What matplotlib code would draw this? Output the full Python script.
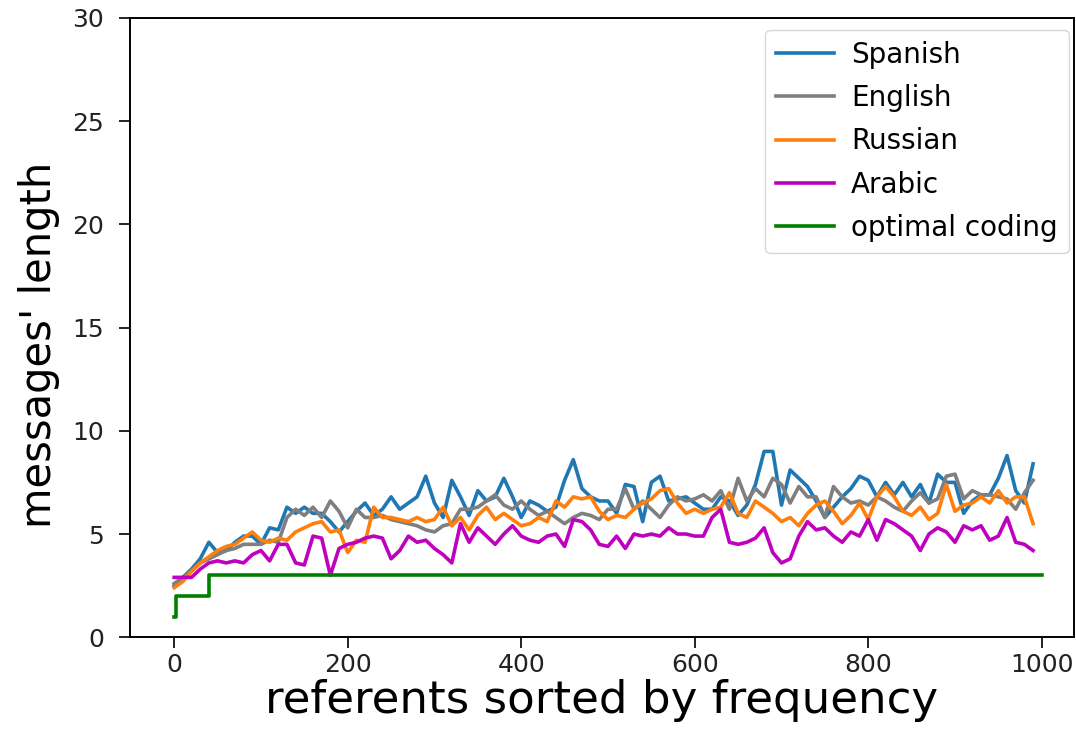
import matplotlib
matplotlib.use("Agg")
import matplotlib.pyplot as plt

# referents sampled every 10 positions (0 .. 990)
referents = list(range(0, 1000, 10))

spanish = [
    2.5, 2.9, 3.3, 3.8, 4.6, 4.1, 4.2, 4.6, 4.9, 4.9,
    4.5, 5.3, 5.2, 6.3, 6.0, 6.3, 6.0, 6.0, 5.6, 5.1,
    5.6, 6.1, 6.5, 5.9, 6.2, 6.8, 6.2, 6.5, 6.8, 7.8,
    6.5, 5.8, 7.6, 6.8, 5.9, 7.1, 6.6, 6.8, 7.7, 6.8,
    5.8, 6.6, 6.4, 6.1, 6.3, 7.6, 8.6, 7.2, 6.8, 6.6,
    6.6, 6.0, 7.4, 7.3, 5.6, 7.5, 7.8, 6.6, 6.7, 6.8,
    6.5, 6.2, 6.2, 6.8, 6.6, 5.9, 6.4, 7.4, 9.0, 9.0,
    6.4, 8.1, 7.7, 7.3, 6.6, 5.8, 6.3, 6.8, 7.2, 7.8,
    7.6, 6.8, 7.5, 6.9, 7.5, 6.8, 7.4, 6.5, 7.9, 7.5,
    7.5, 6.0, 6.6, 6.9, 6.9, 7.7, 8.8, 7.1, 6.5, 8.4,
]

english = [
    2.6, 2.9, 3.2, 3.6, 3.8, 4.0, 4.2, 4.3, 4.5, 4.5,
    4.5, 4.7, 4.6, 5.8, 6.2, 5.9, 6.3, 5.8, 6.6, 6.1,
    5.3, 6.2, 5.8, 5.8, 5.9, 5.7, 5.6, 5.5, 5.4, 5.2,
    5.1, 5.4, 5.5, 6.2, 6.2, 6.3, 6.6, 6.9, 6.4, 6.2,
    6.6, 6.2, 5.9, 6.1, 5.8, 5.5, 5.8, 6.0, 5.9, 5.7,
    6.2, 6.2, 7.2, 6.2, 6.6, 6.2, 5.8, 6.4, 6.8, 6.6,
    6.7, 6.9, 6.6, 7.1, 6.2, 7.7, 6.6, 7.2, 6.8, 7.7,
    7.4, 6.5, 7.3, 6.8, 6.8, 5.8, 7.3, 6.8, 6.5, 6.6,
    6.4, 6.8, 6.6, 6.3, 6.1, 6.6, 7.0, 6.5, 6.7, 7.8,
    7.9, 6.7, 7.1, 6.9, 6.9, 6.8, 6.7, 6.2, 7.0, 7.6,
]

russian = [
    2.4, 2.7, 3.2, 3.6, 3.9, 4.2, 4.4, 4.5, 4.8, 5.1,
    4.7, 4.6, 4.8, 4.7, 5.1, 5.3, 5.5, 5.6, 5.1, 5.2,
    4.1, 4.7, 4.6, 6.3, 5.8, 5.8, 5.7, 5.6, 5.8, 5.6,
    5.7, 6.3, 5.4, 5.8, 5.2, 5.9, 6.3, 5.7, 6.0, 5.7,
    5.4, 5.5, 5.8, 5.6, 6.6, 6.3, 6.8, 6.7, 6.8, 6.1,
    5.7, 5.9, 5.8, 6.2, 6.5, 6.7, 7.1, 7.2, 6.5, 6.0,
    6.2, 6.0, 6.2, 6.3, 7.0, 6.0, 5.8, 6.6, 6.3, 6.0,
    5.6, 5.8, 5.4, 6.0, 6.4, 6.6, 6.1, 5.5, 5.9, 6.5,
    5.7, 6.8, 7.3, 6.8, 6.1, 5.9, 6.3, 5.7, 6.0, 7.4,
    6.1, 6.4, 6.5, 6.8, 6.5, 7.1, 6.5, 6.8, 6.8, 5.5,
]

arabic = [
    2.9, 2.9, 2.9, 3.3, 3.6, 3.7, 3.6, 3.7, 3.6, 4.0,
    4.2, 3.7, 4.5, 4.5, 3.6, 3.5, 4.9, 4.8, 3.0, 4.3,
    4.5, 4.6, 4.8, 4.9, 4.8, 3.8, 4.2, 4.9, 4.6, 4.7,
    4.3, 4.0, 3.6, 5.5, 4.6, 5.3, 4.9, 4.5, 5.0, 5.4,
    4.9, 4.7, 4.6, 4.9, 5.0, 4.4, 5.7, 5.6, 5.2, 4.5,
    4.4, 4.9, 4.3, 5.0, 4.9, 5.0, 4.9, 5.3, 5.0, 5.0,
    4.9, 4.9, 5.8, 6.2, 4.6, 4.5, 4.6, 4.8, 5.3, 4.1,
    3.6, 3.8, 4.9, 5.6, 5.2, 5.3, 4.9, 4.6, 5.1, 4.9,
    5.7, 4.7, 5.7, 5.5, 5.2, 4.9, 4.2, 5.0, 5.3, 5.1,
    4.6, 5.4, 5.2, 5.4, 4.7, 4.9, 5.8, 4.6, 4.5, 4.2,
]

# optimal code length: step values starting at each break
optimal_x = [0, 2, 40, 1000]
optimal_len = [1, 2, 3, 3]

fig = plt.figure(figsize=(10.76, 7.41), dpi=100)
ax = fig.add_axes([0.121, 0.140, 0.877, 0.836])

lw = 2.6
ax.plot(referents, spanish, color='tab:blue', lw=lw, label='Spanish')
ax.plot(referents, english, color='tab:gray', lw=lw, label='English')
ax.plot(referents, russian, color='tab:orange', lw=lw, label='Russian')
ax.plot(referents, arabic, color='m', lw=lw, label='Arabic')
ax.plot(optimal_x, optimal_len, color='g', lw=lw, drawstyle='steps-post',
        label='optimal coding')

ax.set_xlim(-50.7, 1037)
ax.set_ylim(0, 30)
ax.set_xticks([0, 200, 400, 600, 800, 1000])
ax.set_yticks([0, 5, 10, 15, 20, 25, 30])
ax.tick_params(labelsize=18, length=8, width=1.4, colors='#222222')
ax.tick_params(axis='x', pad=3)
ax.tick_params(axis='y', pad=11)
for sp in ax.spines.values():
    sp.set_linewidth(1.4)

ax.set_xlabel('referents sorted by frequency', fontsize=32.5, labelpad=2)
ax.set_ylabel("messages' length", fontsize=30)
ax.yaxis.set_label_coords(-0.074, 0.472)

ax.legend(loc='upper right', bbox_to_anchor=(0.9947, 0.9806),
          borderaxespad=0, fontsize=20, handlelength=2.1,
          labelspacing=0.55, handletextpad=0.6, borderpad=0.4)

fig.savefig('out.png', dpi=100)
